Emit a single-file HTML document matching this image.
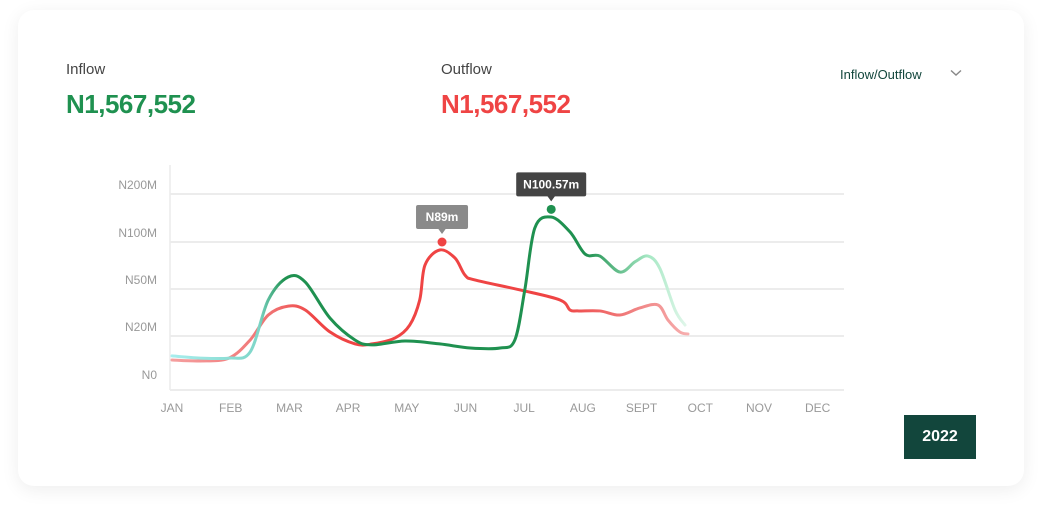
<!DOCTYPE html>
<html><head><meta charset="utf-8"><style>
body{margin:0;width:1042px;height:513px;background:#fff;font-family:"Liberation Sans",sans-serif;overflow:hidden;position:relative}
.card{position:absolute;left:18px;top:10px;width:1006px;height:476px;background:#fff;border-radius:16px;box-shadow:0 4px 18px rgba(0,0,0,0.07)}
.lbl{position:absolute;font-size:15px;color:#444}
.val{position:absolute;font-size:26px;font-weight:bold;letter-spacing:-0.5px}
.btn{position:absolute;left:904px;top:415px;width:72px;height:44px;background:#12463c;color:#fff;font-weight:bold;font-size:16px;display:flex;align-items:center;justify-content:center}
</style></head><body>
<div class="card"></div>
<div class="lbl" style="left:66px;top:61px">Inflow</div>
<div class="val" style="left:66px;top:89px;color:#1f9150">N1,567,552</div>
<div class="lbl" style="left:441px;top:61px">Outflow</div>
<div class="val" style="left:441px;top:89px;color:#ef4444">N1,567,552</div>
<div style="position:absolute;left:840px;top:67px;font-size:13px;color:#12463c">Inflow/Outflow</div>
<svg style="position:absolute;left:950px;top:69px" width="12" height="8"><path d="M1,1.5 L6,6 L11,1.5" fill="none" stroke="#888" stroke-width="1.4"/></svg>
<div class="btn">2022</div>
<svg id="chart" width="1042" height="513" style="position:absolute;left:0;top:0"></svg>
<script>
const months=["JAN","FEB","MAR","APR","MAY","JUN","JUL","AUG","SEPT","OCT","NOV","DEC"];
const yTicks=[0,20,50,100,200];
const yTickLabels=["N0","N20M","N50M","N100M","N200M"];
const inflowX=[0,0.48,0.97,1.33,1.64,1.98,2.27,2.69,3.12,3.41,3.97,4.56,5.08,5.59,5.84,6.01,6.18,6.46,6.78,7.04,7.29,7.63,7.89,8.11,8.31,8.57,8.74];
const inflowV=[11.7,10.8,10.8,13.3,43,62.8,57.4,31.5,18.3,16.3,17.9,16.7,15,15,18.3,49.4,129,152,121,87,85,68,79,85,72,36.6,27];
const outflowX=[0,0.48,0.97,1.33,1.64,1.98,2.27,2.69,3.12,3.41,3.80,4.05,4.22,4.31,4.56,4.82,4.99,5.16,5.93,6.61,6.78,6.91,7.29,7.63,7.97,8.28,8.45,8.65,8.79];
const outflowV=[10,9.6,10.8,18.3,33.4,39.1,36.6,22.6,16.7,16.7,19.2,27,43,75.5,91.5,83,64.9,59.6,49.4,43,36.6,36,36,33.4,37.9,39.8,30.2,22.6,21.3];
const peakOut={m:4.6,v:100,label:"N89m"};
const peakIn={m:6.46,v:168,label:"N100.57m"};
const NS="http://www.w3.org/2000/svg";
const svg=document.getElementById('chart');
const yPix=[384,336,289,242,194];
function xs(m){return 172+m*58.7;}
function ys(v){for(let i=0;i<yTicks.length-1;i++){if(v<=yTicks[i+1]){return yPix[i]+(yPix[i+1]-yPix[i])*(v-yTicks[i])/(yTicks[i+1]-yTicks[i]);}}const n=yTicks.length-1;return yPix[n]+(yPix[n]-yPix[n-1])*(v-yTicks[n])/(yTicks[n]-yTicks[n-1]);}
function mk(t,a){const e=document.createElementNS(NS,t);for(const k in a)e.setAttribute(k,a[k]);svg.appendChild(e);return e;}
svg.innerHTML='<defs><linearGradient id="gIn" gradientUnits="userSpaceOnUse" x1="170" x2="690" y1="0" y2="0"><stop offset="0" stop-color="#a8eeee"/><stop offset="0.17" stop-color="#7fd6c8"/><stop offset="0.22" stop-color="#1f9150"/><stop offset="0.8" stop-color="#1f9150"/><stop offset="0.92" stop-color="#a6e8c4"/><stop offset="1" stop-color="#e6f8ee"/></linearGradient><linearGradient id="gOut" gradientUnits="userSpaceOnUse" x1="170" x2="690" y1="0" y2="0"><stop offset="0" stop-color="#f5a0a0"/><stop offset="0.2" stop-color="#f07070"/><stop offset="0.28" stop-color="#ef4444"/><stop offset="0.75" stop-color="#ef4444"/><stop offset="0.9" stop-color="#f08585"/><stop offset="1" stop-color="#f7b0b0"/></linearGradient></defs>';
for(let i=1;i<yTicks.length;i++){const g=mk('line',{x1:170,x2:844,y1:yPix[i],y2:yPix[i],stroke:'#ececec','stroke-width':2});}
for(let i=0;i<yTicks.length;i++){const t=mk('text',{x:157,y:yPix[i]-5,'text-anchor':'end','font-size':12,fill:'#999'});t.textContent=yTickLabels[i];}
mk('line',{x1:170,x2:170,y1:165,y2:390,stroke:'#ececec','stroke-width':1.5});
mk('line',{x1:170,x2:844,y1:390,y2:390,stroke:'#ececec','stroke-width':2});
months.forEach((m,i)=>{const t=mk('text',{x:xs(i),y:412,'text-anchor':'middle','font-size':12,fill:'#999'});t.textContent=m;});
function path(X,V){const p=X.map((m,i)=>[xs(m),ys(V[i])]);let d='M'+p[0][0]+','+p[0][1];for(let i=0;i<p.length-1;i++){const p0=p[i-1]||p[i],p1=p[i],p2=p[i+1],p3=p[i+2]||p2;const c1x=p1[0]+(p2[0]-p0[0])/6,c1y=p1[1]+(p2[1]-p0[1])/6,c2x=p2[0]-(p3[0]-p1[0])/6,c2y=p2[1]-(p3[1]-p1[1])/6;d+=`C${c1x},${c1y} ${c2x},${c2y} ${p2[0]},${p2[1]}`;}return d;}
const lo=mk('path',{d:path(outflowX,outflowV),fill:'none',stroke:'url(#gOut)','stroke-width':3,'stroke-linecap':'round'});

const li=mk('path',{d:path(inflowX,inflowV),fill:'none',stroke:'url(#gIn)','stroke-width':3,'stroke-linecap':'round'});

function tip(pk,color,bg,w,name){const x=xs(pk.m),y=ys(pk.v);const c=mk('circle',{cx:x,cy:y,r:4.5,fill:color});
const r=mk('rect',{x:x-w/2,y:y-37,width:w,height:24,rx:2,fill:bg});
mk('path',{d:`M${x-4},${y-13.5} L${x},${y-8} L${x+4},${y-13.5}Z`,fill:bg});
const t=mk('text',{x:x,y:y-21,'text-anchor':'middle','font-size':12,'font-weight':'bold',fill:'#fff'});t.textContent=pk.label;}
tip(peakOut,'#ef4444','#8a8a8a',52,'outflow-peak');
tip(peakIn,'#1f9150','#444444',70,'inflow-peak');
</script>
</body></html>
